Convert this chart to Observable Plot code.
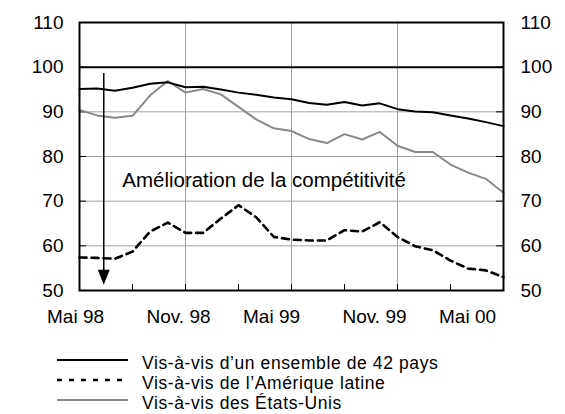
<!DOCTYPE html>
<html>
<head>
<meta charset="utf-8">
<script src="https://cdn.jsdelivr.net/npm/d3@7"></script>
<script src="https://cdn.jsdelivr.net/npm/@observablehq/plot@0.6"></script>
<style>
  body { margin: 0; background: #fff; font-family: "Liberation Sans", Arial, sans-serif; }
  #legend { position: relative; width: 565px; height: 74px; }
  #legend .txt { position: absolute; left: 142px; font-size: 17.5px; letter-spacing: 0.6px; line-height: 16px; white-space: nowrap; color: #000; }
  #legend svg { position: absolute; left: 57px; }
</style>
</head>
<body>
<div id="chart"></div>
<div id="legend"></div>
<script>
// ---- data ----
const months = ["1998-05","1998-06","1998-07","1998-08","1998-09","1998-10","1998-11","1998-12",
  "1999-01","1999-02","1999-03","1999-04","1999-05","1999-06","1999-07","1999-08","1999-09","1999-10","1999-11","1999-12",
  "2000-01","2000-02","2000-03","2000-04","2000-05"];
const ensemble42 = [95.1, 95.2, 94.7, 95.4, 96.3, 96.6, 95.5, 95.6, 95.0, 94.3, 93.8, 93.2, 92.8, 92.0, 91.6, 92.2, 91.4, 91.9, 90.6, 90.1, 89.9, 89.2, 88.5, 87.7, 86.8];
const ameriqueLatine = [57.4, 57.3, 57.1, 58.7, 63.2, 65.2, 62.9, 62.9, 66.1, 69.1, 66.4, 62.0, 61.4, 61.2, 61.2, 63.5, 63.2, 65.3, 62.0, 59.9, 59.0, 56.7, 54.9, 54.5, 53.0];
const etatsUnis = [90.4, 89.2, 88.7, 89.1, 93.7, 96.9, 94.3, 95.1, 93.9, 91.1, 88.3, 86.3, 85.7, 83.9, 83.0, 85.0, 83.8, 85.5, 82.4, 81.0, 81.0, 78.2, 76.4, 75.0, 71.9];
const seriesNames = ["Vis-à-vis d\u2019un ensemble de 42 pays", "Vis-à-vis de l\u2019Amérique latine", "Vis-à-vis des États-Unis"];
const yTicks = [50, 60, 70, 80, 90, 100, 110];
const yGrid = [60, 70, 80, 90];
const xTickMonths = ["1998-05", "1998-11", "1999-05", "1999-11", "2000-05"];
const xTickLabels = ["Mai 98", "Nov. 98", "Mai 99", "Nov. 99", "Mai 00"];
const quarterMonths = ["1998-08", "1998-11", "1999-02", "1999-05", "1999-08", "1999-11", "2000-02"];
const annotation = "Amélioration de la compétitivité";
const annotationMonth = "1998-07";
const annotationValue = 74.7;
const arrowMonth = "1998-06";
const arrowFrom = 98.6;
const arrowTo = 51.3;

// ---- layout ----
const W = 565, H = 340, mL = 79, mR = 62, mT = 22, mB = 50;
const innerW = W - mL - mR, innerH = H - mT - mB;
const labelDx = [-4, -7, -20, -23, -36];
const grid = "#a0a0a0";
const grayLine = "#888888";
const mi = m => months.indexOf(m);   // month -> position on the category axis

const rows = months.map((m, i) => ({k: i, e: ensemble42[i], a: ameriqueLatine[i], u: etatsUnis[i]}));

const headSymbol = {
  draw(ctx) { ctx.moveTo(0, 0); ctx.lineTo(-6, -15); ctx.lineTo(6, -15); ctx.closePath(); }
};

const chart = Plot.plot({
  width: W, height: H, marginLeft: mL, marginRight: mR, marginTop: mT, marginBottom: mB,
  style: {fontFamily: "'Liberation Sans', Arial, sans-serif", fontSize: "19px", color: "#000", background: "#fff", overflow: "visible"},
  x: {type: "linear", domain: [0, months.length - 1], axis: null, label: null},
  y: {domain: [50, 110], axis: null, label: null},
  marks: [
    Plot.gridY(yGrid, {stroke: grid, strokeOpacity: 1, strokeWidth: 1}),
    Plot.gridX(xTickMonths.slice(1, -1).map(mi), {stroke: grid, strokeOpacity: 1, strokeWidth: 1}),
    Plot.tickY(yTicks, {stroke: "#000", strokeWidth: 1, insetRight: innerW - 7}),
    Plot.tickY(yTicks, {stroke: "#000", strokeWidth: 1, insetLeft: innerW - 7}),
    Plot.tickX(quarterMonths.map(mi), {stroke: "#000", strokeWidth: 1, insetTop: innerH - 6}),
    Plot.ruleY([100], {stroke: "#000", strokeWidth: 2}),
    Plot.line(rows, {x: "k", y: "u", stroke: grayLine, strokeWidth: 2}),
    Plot.line(rows, {x: "k", y: "a", stroke: "#000", strokeWidth: 2.6, strokeDasharray: "7,5"}),
    Plot.line(rows, {x: "k", y: "e", stroke: "#000", strokeWidth: 2}),
    Plot.ruleX([mi(arrowMonth)], {y1: () => arrowFrom, y2: () => arrowTo + 3, stroke: "#000", strokeWidth: 1.5, dx: 6.6}),
    Plot.dot([mi(arrowMonth)], {x: d => d, y: () => arrowTo, symbol: headSymbol, fill: "#000", stroke: "none", dx: 6.6}),
    Plot.text([annotation], {x: () => mi(annotationMonth), y: () => annotationValue, text: d => d, textAnchor: "start", dx: 7.4, fontSize: 20.5, fill: "#000"}),
    Plot.axisY(yTicks, {anchor: "left", tickSize: 0, tickPadding: 16, fontSize: 19, label: null}),
    Plot.axisY(yTicks, {anchor: "right", tickSize: 0, tickPadding: 17, fontSize: 19, label: null}),
    ...xTickMonths.map((m, i) => Plot.text([xTickLabels[i]], {x: () => mi(m), text: d => d, frameAnchor: "bottom", dy: 32, dx: labelDx[i], fontSize: 19, fill: "#000"})),
    Plot.frame({stroke: "#000", strokeWidth: 2})
  ]
});
document.getElementById("chart").appendChild(chart);

// ---- legend (HTML below the SVG) ----
const legendStyles = [
  {stroke: "#000", width: 2, dash: null},
  {stroke: "#000", width: 2.6, dash: "5,7"},
  {stroke: grayLine, width: 2, dash: null}
];
const lineCenters = [20, 40, 60];
const textCenters = [22.5, 42.5, 62.5];
const legend = d3.select("#legend");
seriesNames.forEach((name, i) => {
  const s = legendStyles[i];
  const svg = legend.append("svg").attr("width", 71).attr("height", 6).style("top", (lineCenters[i] - 3) + "px");
  svg.append("line").attr("x1", 0).attr("x2", 71).attr("y1", 3).attr("y2", 3)
    .attr("stroke", s.stroke).attr("stroke-width", s.width).attr("stroke-dasharray", s.dash);
  legend.append("div").attr("class", "txt").style("top", (textCenters[i] - 7.6) + "px").text(name);
});
</script>
</body>
</html>
